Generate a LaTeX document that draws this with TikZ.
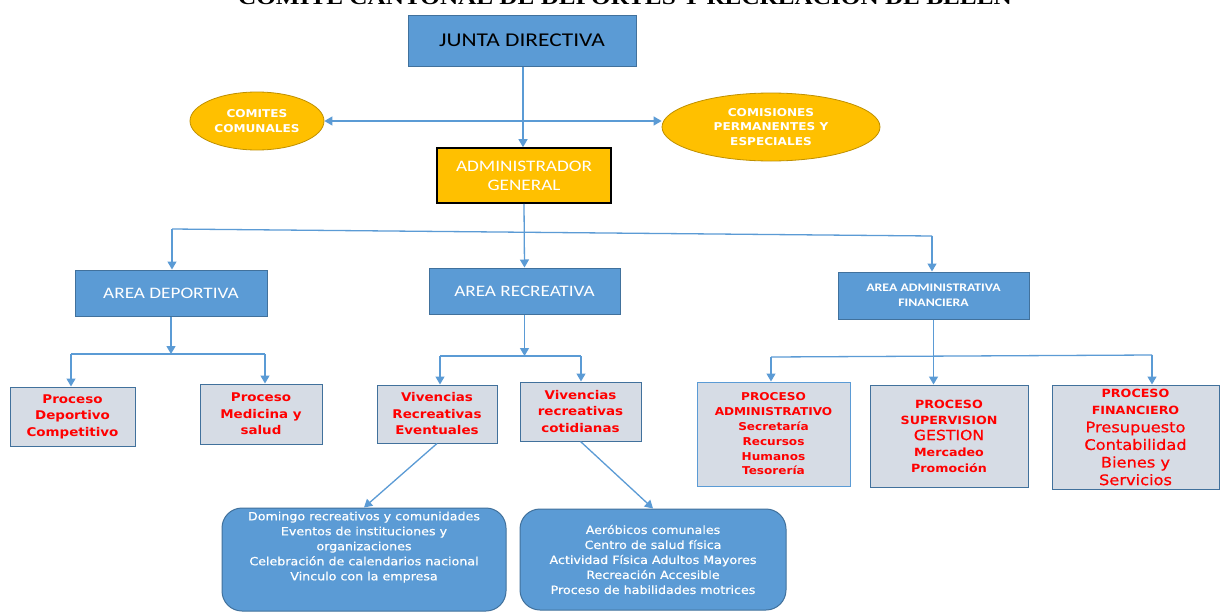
\documentclass[tikz,border=0pt]{standalone}
\usepackage{fontspec}
\setmainfont{Carlito}
\newfontfamily\calf[FakeStretch=1.2]{Carlito}
\newfontfamily\tahf[FakeStretch=1.12]{DejaVu Sans}
\newfontfamily\tahbf[FakeStretch=1.12,FakeBold=0.6]{DejaVu Sans}
\newfontfamily\tmsf[FakeStretch=1.2]{Liberation Serif}
\usetikzlibrary{arrows.meta,shapes.geometric}
\definecolor{bfill}{HTML}{5B9BD5}
\definecolor{bdraw}{HTML}{41719C}
\definecolor{gold}{HTML}{FFC000}
\definecolor{golddraw}{HTML}{BF9000}
\definecolor{lfill}{HTML}{D6DCE5}
\definecolor{rtext}{HTML}{FF0000}
\definecolor{conn}{HTML}{5B9BD5}
\begin{document}
\begin{tikzpicture}[x=1pt,y=-1pt,
  bluebox/.style={draw=bdraw,fill=bfill,line width=1pt,inner sep=0pt,align=center,text=white,font=\calf\fontsize{16}{19}\selectfont},
  goldell/.style={ellipse,draw=golddraw,fill=gold,line width=0.8pt,inner sep=0pt,align=center,text=white,font=\tahf\bfseries\fontsize{10.8}{14.5}\selectfont},
  procbox/.style={draw=bdraw,fill=lfill,line width=1pt,inner sep=0pt,align=center,text=rtext,font=\tahf\bfseries\fontsize{12}{16.5}\selectfont},
  roundbox/.style={draw=bdraw,fill=bfill,line width=1pt,rounded corners=20pt,inner sep=0pt},
  boxtext/.style={inner sep=0pt,align=center,text=white,font=\tahbf\fontsize{11.3}{15}\selectfont},
  conline/.style={draw=conn,line width=1.3pt},
  arr/.style={conline,-{Triangle[length=8pt,width=9pt]}},
  darr/.style={conline,{Triangle[length=8pt,width=9pt]}-{Triangle[length=8pt,width=9pt]}}
]
\fill[white] (0,0) rectangle (1231,613);
\useasboundingbox (0,0) rectangle (1231,613);

% title (cut off at top, as in the reference)
\node[anchor=base,inner sep=0pt,font=\tmsf\bfseries\fontsize{21}{21}\selectfont] (title) at (625,5) {COMITE CANTONAL DE DEPORTES Y RECREACION DE BELEN};

% top
\node[bluebox,text=black,minimum width=228pt,minimum height=51pt,font=\calf\fontsize{19.5}{22}\selectfont] (junta) at (522,40.5) {JUNTA DIRECTIVA};
\node[goldell,minimum width=134pt,minimum height=58pt] (comites) at (257,121) {COMITES\\COMUNALES};
\node[goldell,minimum width=218pt,minimum height=68pt] (comis) at (771,127) {COMISIONES\\PERMANENTES Y\\ESPECIALES};
\node[draw=black,fill=gold,line width=1.6pt,inner sep=0pt,minimum width=174pt,minimum height=55pt,align=center,text=white,font=\calf\fontsize{16}{19}\selectfont] (admin) at (524,175.5) {ADMINISTRADOR\\GENERAL};

% areas
\node[bluebox,minimum width=192pt,minimum height=46pt] (adep) at (171,293) {AREA DEPORTIVA};
\node[bluebox,minimum width=191pt,minimum height=46pt] (arec) at (524.5,291) {AREA RECREATIVA};
\node[bluebox,minimum width=191pt,minimum height=47pt,font=\calf\bfseries\fontsize{11.5}{15}\selectfont] (aadm) at (933.5,295.5) {AREA ADMINISTRATIVA\\FINANCIERA};

% processes
\node[procbox,minimum width=125pt,minimum height=59pt] (pdep) at (72.5,416.5) {Proceso\\Deportivo\\Competitivo};
\node[procbox,minimum width=122pt,minimum height=60pt] (pmed) at (261,414) {Proceso\\Medicina y\\salud};
\node[procbox,minimum width=120pt,minimum height=58pt] (vev) at (437,414) {Vivencias\\Recreativas\\Eventuales};
\node[procbox,minimum width=121pt,minimum height=59pt] (vcot) at (580.5,411.5) {Vivencias\\recreativas\\cotidianas};
\node[procbox,draw=bfill,minimum width=153pt,minimum height=104pt,font=\tahf\bfseries\fontsize{10.8}{14.8}\selectfont] (padm) at (773.5,434) {PROCESO\\ADMINISTRATIVO\\Secretaría\\Recursos\\Humanos\\Tesorería};
\node[procbox,minimum width=158pt,minimum height=102pt,font=\tahf\bfseries\fontsize{11.3}{16}\selectfont] (psup) at (949,436) {PROCESO\\SUPERVISION\\{\tahbf\mdseries\fontsize{14}{16}\selectfont GESTION}\\Mercadeo\\Promoción};
\node[procbox,minimum width=167pt,minimum height=104pt,font=\tahf\bfseries\fontsize{11.3}{17.6}\selectfont] (pfin) at (1135.5,437) {PROCESO\\FINANCIERO\\{\tahbf\mdseries\fontsize{14.5}{17}\selectfont Presupuesto}\\{\tahbf\mdseries\fontsize{14.5}{17}\selectfont Contabilidad}\\{\tahbf\mdseries\fontsize{14.5}{17}\selectfont Bienes y}\\{\tahbf\mdseries\fontsize{14.5}{17}\selectfont Servicios}};

% rounded boxes
\node[roundbox,minimum width=284pt,minimum height=103pt] (evbox) at (364,559.5) {};
\node[boxtext,anchor=north] (evtext) at ([yshift=-4pt]evbox.north) {Domingo recreativos y comunidades\\Eventos de instituciones y\\organizaciones\\Celebración de calendarios nacional\\Vinculo con la empresa};
\node[roundbox,minimum width=266pt,minimum height=101pt] (cotbox) at (653,559.5) {};
\node[boxtext] (cottext) at (cotbox.center) {Aeróbicos comunales\\Centro de salud física\\Actividad Física Adultos Mayores\\Recreación Accesible\\Proceso de habilidades motrices};

% connectors
\draw[arr] (junta.south) ++(1,0) coordinate (jsouth) -- (jsouth |- admin.north);
\draw[darr] (comites.east) -- (comites.east -| comis.west);

\coordinate (jl) at (172,229);
\coordinate (jr) at (932,236);
\draw[conline] (jl) -- (jr);
\draw[arr] (admin.south) -- (arec.north);
\draw[arr] (jl) -- (jl |- adep.north);
\draw[arr] (jr) -- (jr |- aadm.north);

\coordinate (dl) at (71,354);
\coordinate (dr) at (265,354);
\draw[arr] (adep.south) -- (adep.south |- dl);
\draw[conline] (dl) -- (dr);
\draw[arr] (dl) -- (dl |- pdep.north);
\draw[arr] (dr) -- (dr |- pmed.north);

\coordinate (rl) at (440,356);
\coordinate (rr) at (581,356);
\draw[arr] (arec.south) -- (arec.south |- rl);
\draw[conline] (rl) -- (rr);
\draw[arr] (rl) -- (rl |- vev.north);
\draw[arr] (rr) -- (rr |- vcot.north);

\coordinate (al) at (771,357);
\coordinate (ar) at (1152,355);
\draw[arr] (aadm.south) -- (aadm.south |- psup.north);
\draw[conline] (al) -- (ar);
\draw[arr] (al) -- (al |- padm.north);
\draw[arr] (ar) -- (ar |- pfin.north);

\draw[arr] (vev.south) -- (evbox.north);
\draw[arr] (vcot.south) -- (cotbox.north);
\end{tikzpicture}
\end{document}
